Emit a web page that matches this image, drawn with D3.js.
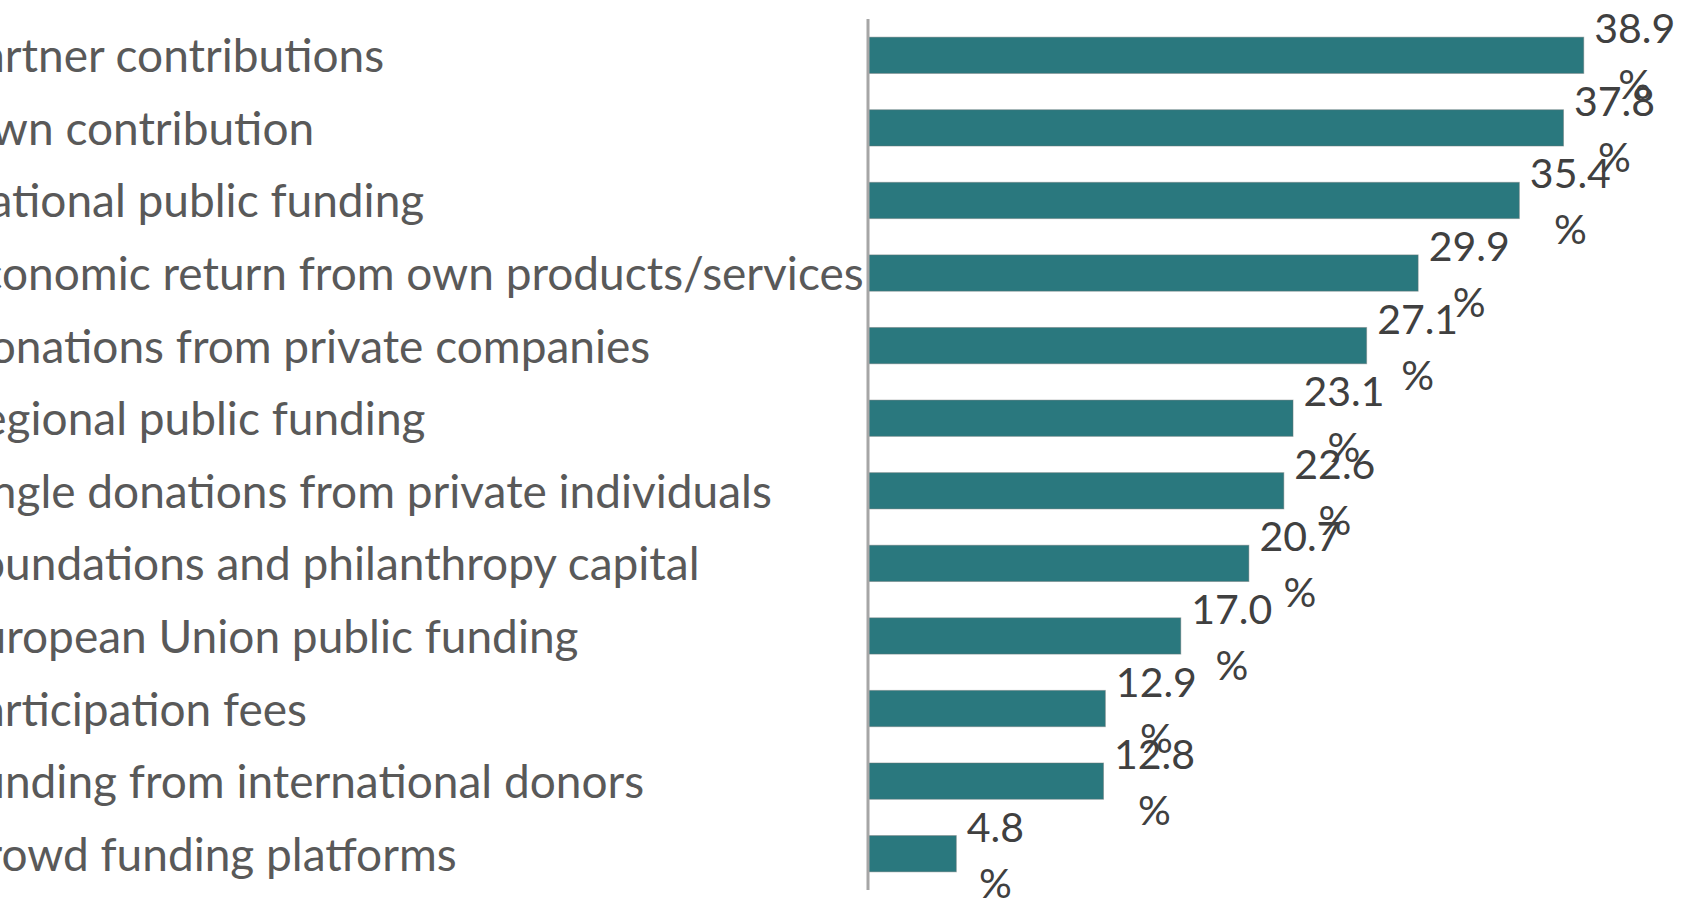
<!DOCTYPE html>
<html>
<head>
<meta charset="utf-8">
<script src="https://cdn.jsdelivr.net/npm/d3@7"></script>
<style>
  html, body { margin: 0; padding: 0; background: #ffffff; overflow: hidden; }
  svg { display: block; }
</style>
</head>
<body>
<svg id="chart" width="1689" height="903"></svg>
<script>
// Funding sources (share of respondents, %)
const categories = [
  "Partner contributions",
  "Own contribution",
  "National public funding",
  "Economic return from own products/services",
  "Donations from private companies",
  "Regional public funding",
  "Single donations from private individuals",
  "Foundations and philanthropy capital",
  "European Union public funding",
  "Participation fees",
  "Funding from international donors",
  "Crowd funding platforms"
];
const shares = [38.9, 37.8, 35.4, 29.9, 27.1, 23.1, 22.6, 20.7, 17.0, 12.9, 12.8, 4.8];
const valueSuffix = "%";
const axisDomain = [0, 45];

const width = 1689, height = 903;
const axisLeft = 868;
const plotTop = 19, plotBottom = 890;
const plotRight = 1696;

const svg = d3.select("#chart");

const x = d3.scaleLinear().domain(axisDomain).range([axisLeft, plotRight]);
const y = d3.scaleBand()
  .domain(categories)
  .range([plotTop, plotBottom])
  .paddingInner(0.5)
  .paddingOuter(0.25);

const rows = categories.map((c, i) => ({ category: c, value: shares[i] }));

// Bars
svg.append("g")
  .selectAll("rect")
  .data(rows)
  .join("rect")
  .attr("x", x(0))
  .attr("y", d => y(d.category))
  .attr("width", d => x(d.value) - x(0))
  .attr("height", y.bandwidth())
  .attr("fill", "#2a787e")
  .attr("stroke", "rgba(110,120,120,0.45)")
  .attr("stroke-width", 1);

// Category axis (vertical line only, labels left-aligned)
const axis = d3.axisLeft(y).tickSize(0).tickFormat("");
const axisG = svg.append("g")
  .attr("transform", `translate(${axisLeft},0)`)
  .call(axis);
axisG.select(".domain")
  .attr("stroke", "#a6a6a6")
  .attr("stroke-width", 3)
  .attr("d", `M0,${plotTop}V${plotBottom}`);

const labelStart = -45;
svg.append("g")
  .selectAll("text")
  .data(rows)
  .join("text")
  .attr("x", labelStart)
  .attr("y", d => y(d.category) + y.bandwidth() / 2 + 17)
  .attr("text-anchor", "start")
  .attr("font-family", "Lato, 'Open Sans', sans-serif")
  .attr("font-size", 46)
  .attr("fill", "#595959")
  .text(d => d.category);

// Value labels: number on the first line, percent sign on the second, centred
const valueLabels = svg.append("g")
  .selectAll("text")
  .data(rows)
  .join("text")
  .attr("text-anchor", "middle")
  .attr("font-family", "Lato, 'Open Sans', sans-serif")
  .attr("font-size", 41)
  .attr("fill", "#404040");

valueLabels.each(function(d) {
  const t = d3.select(this);
  const cy = y(d.category) + y.bandwidth() / 2;
  const num = t.append("tspan").attr("y", cy - 12).text(d3.format(".1f")(d.value));
  const pct = t.append("tspan").attr("y", cy + 44).text(valueSuffix);
  const w = num.node().getComputedTextLength();
  const cx = x(d.value) + 10.5 + w / 2;
  num.attr("x", cx);
  pct.attr("x", cx);
});
</script>
</body>
</html>
